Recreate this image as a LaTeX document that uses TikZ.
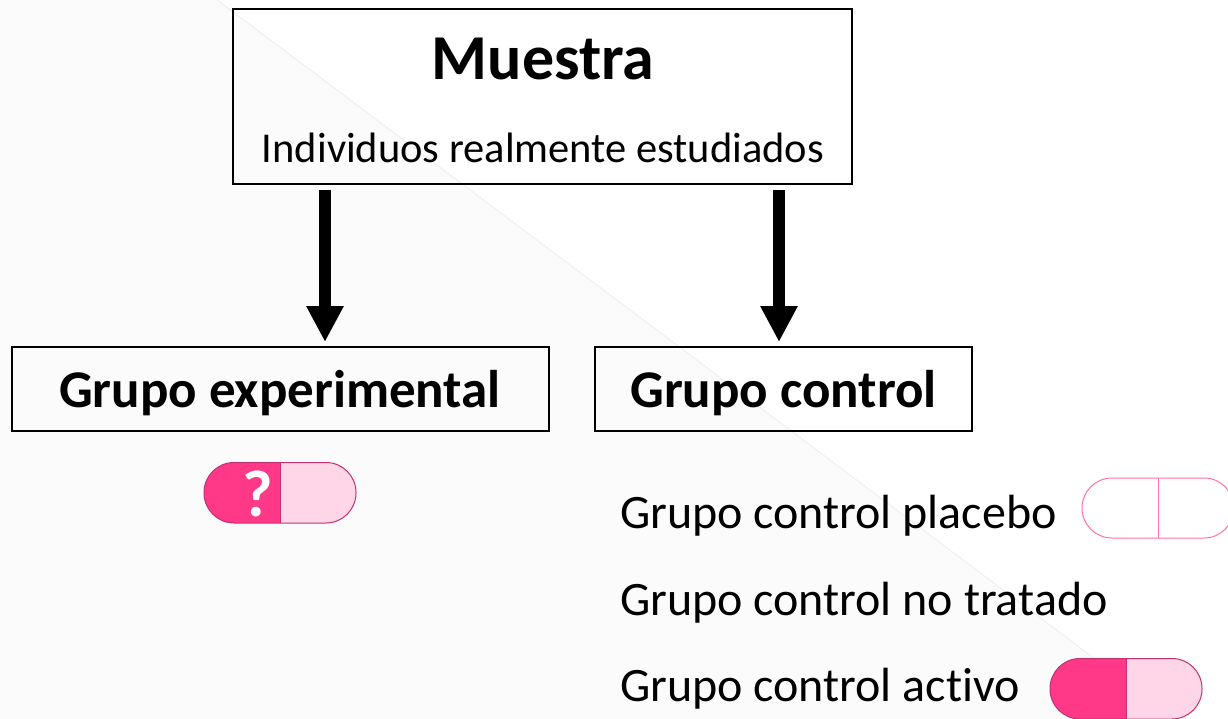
\documentclass[tikz,border=0pt]{standalone}
\usepackage{fontspec}
\setmainfont[Ligatures=NoCommon]{Carlito}
\usetikzlibrary{arrows.meta}
\definecolor{pillA}{HTML}{FF3888}
\definecolor{pillB}{HTML}{FFD6E8}
\definecolor{pillE}{HTML}{C2306F}
\definecolor{pillP}{HTML}{FF73A8}
\definecolor{bgtri}{HTML}{FBFBFB}
\definecolor{bgline}{HTML}{EFEFEF}
\newcommand{\fsz}[1]{\fontsize{#1}{#1}\selectfont}
% left, divider, top, bottom, left fill, right fill, edge
\newcommand{\pillshape}[7]{%
  \begin{scope}
    \clip[rounded corners=30pt] (#1,#3) rectangle (#2+76,#4);
    \fill[#5] (#1,#3) rectangle (#2,#4);
    \fill[#6] (#2,#3) rectangle (#2+76,#4);
  \end{scope}
  \draw[#7,line width=1pt,rounded corners=30pt] (#1,#3) rectangle (#2+76,#4);
  \draw[#7,line width=1pt] (#2,#3) -- (#2,#4);
}
\tikzset{
  boxnode/.style={draw=black,line width=2pt,fill=none,inner sep=0pt,outer sep=0pt,minimum width=#1},
  label/.style={inner sep=0pt,outer sep=0pt,anchor=base west,text=black},
  blabel/.style={inner sep=0pt,outer sep=0pt,anchor=base,text=black},
  bigarrow/.style={line width=12pt,-{Triangle[width=35pt,length=36pt]}}
}
\begin{document}
\begin{tikzpicture}[x=1pt,y=-1pt]
\useasboundingbox (0,0) rectangle (1228,719);
\clip (0,0) rectangle (1228,719);
\fill[white] (0,0) rectangle (1228,719);
\fill[bgtri] (0,0) -- (217,0) -- (1175,719) -- (0,719) -- cycle;
\draw[bgline,line width=1pt] (217,0) -- (1175,719);

\node[boxnode=619pt,minimum height=175pt] (muestra) at (542.5,96.5) {};
\node[boxnode=537pt,minimum height=84pt] (exper) at (280.5,389) {};
\node[boxnode=377pt,minimum height=84pt] (control) at (783.5,389) {};

\node[blabel,font=\fsz{64}\bfseries] (t1) at (543,80) {Muestra};
\node[blabel,font=\fsz{42.5}] (t2) at (543,162.5) {Individuos realmente estudiados};
\node[blabel,font=\fsz{53}\bfseries] (t3) at (280,407) {Grupo experimental};
\node[blabel,font=\fsz{53}\bfseries] (t4) at (783.5,407) {Grupo control};

\coordinate (a1s) at ([xshift=-217.5pt,yshift=-6pt]muestra.south);
\coordinate (a1e) at ([xshift=44.5pt,yshift=5pt]exper.north);
\coordinate (a2s) at ([xshift=236.5pt,yshift=-6pt]muestra.south);
\coordinate (a2e) at ([xshift=-4.5pt,yshift=5pt]control.north);
\draw[bigarrow] (a1s) -- (a1e);
\draw[bigarrow] (a2s) -- (a2e);

\pillshape{204}{280}{462.5}{523}{pillA}{pillB}{pillE}
\node[blabel,font=\fsz{66}\bfseries,text=white] (q) at (258,516) {?};

\node[label,font=\fsz{48}] (c1) at (620,528.5) {Grupo control placebo};
\node[label,font=\fsz{48}] (c2) at (620,615.5) {Grupo control no tratado};
\node[label,font=\fsz{48}] (c3) at (620,701.5) {Grupo control activo};

\pillshape{1082}{1158}{478}{538}{white}{white}{pillP}
\pillshape{1050}{1126}{658.5}{719}{pillA}{pillB}{pillE}
\end{tikzpicture}
\end{document}
